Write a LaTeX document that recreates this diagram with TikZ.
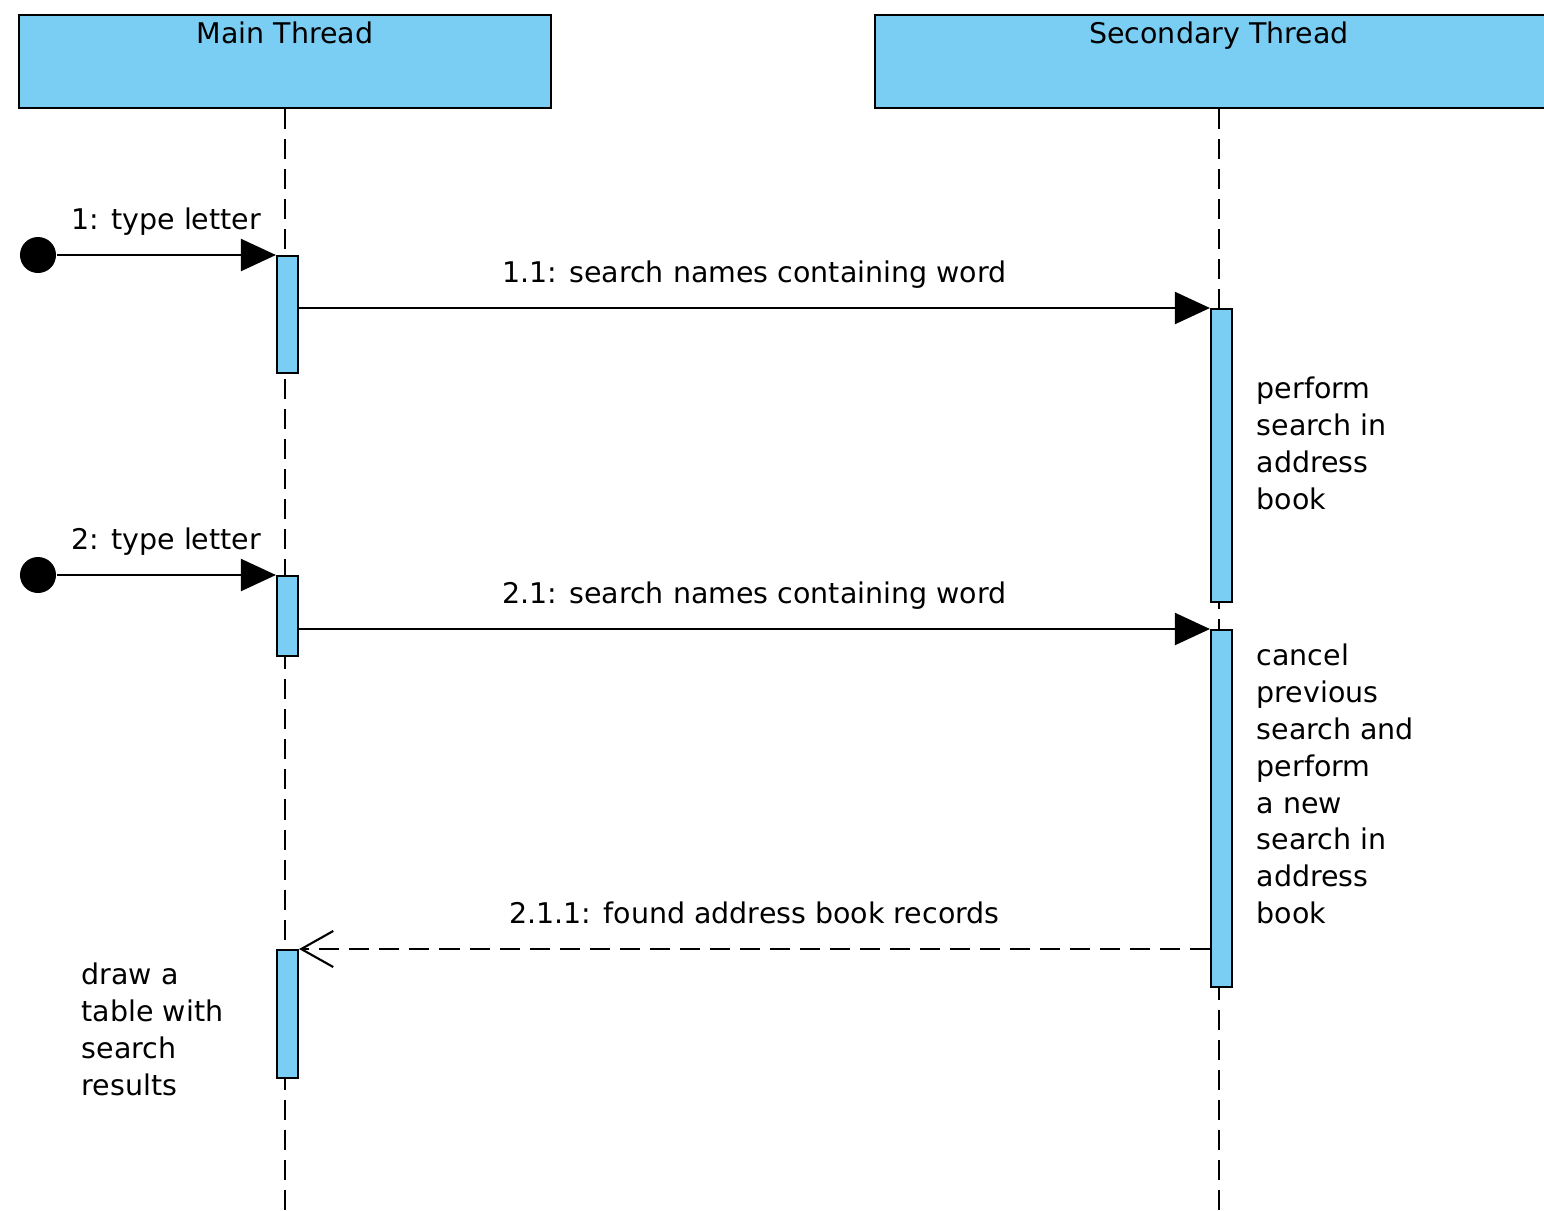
\documentclass[tikz,border=0pt]{standalone}
\usepackage{fontspec}
\setmainfont{DejaVu Sans}
\usetikzlibrary{arrows.meta,positioning}
\definecolor{threadblue}{RGB}{122,206,244}
\tikzset{
    threadhead/.style={rectangle, draw=black, fill=threadblue, line width=0.6pt, minimum width=5.32cm, minimum height=0.93cm},
    lifeline/.style={line width=0.6pt, dash pattern=on 0.2cm off 0.1cm},
    actbox/.style={rectangle, draw=black, fill=threadblue, line width=0.6pt, minimum width=0.21cm, inner sep=0pt, anchor=north, xshift=0.025cm},
    startdot/.style={circle, fill=black, minimum size=0.36cm, inner sep=0pt},
    call/.style={-{Triangle[length=0.35cm, width=0.32cm]}, line width=0.6pt},
    reply/.style={-{Straight Barb[length=0.32cm, width=0.36cm]}, line width=0.6pt, dash pattern=on 0.2cm off 0.1cm},
    msglabel/.style={midway, anchor=base, yshift=0.25cm, inner sep=0pt},
    notetext/.style={align=left, anchor=north west, inner sep=0pt}
}

\begin{document}
\begin{tikzpicture}[x=0.01cm, y=-0.01cm, font=\fontsize{8.1}{10.5}\selectfont]
    \useasboundingbox (0,0) rectangle (1544,1211);
    \clip (0,0) rectangle (1544,1211);
    \node[threadhead, label={[anchor=north, inner sep=0pt, yshift=-0.07cm]north:Main Thread}] (main) at (285,61.5) {};
    \node[threadhead, minimum width=6.88cm, label={[anchor=north, inner sep=0pt, yshift=-0.07cm]north:Secondary Thread}] (second) at (1219,61.5) {};
    \draw[lifeline] (main.south) -- (main.south |- 0,1211);
    \draw[lifeline] (second.south) -- (second.south |- 0,1211);

    \node[actbox, minimum height=1.17cm] (m1) at (main.south |- 0,255) {};
    \node[actbox, minimum height=0.80cm] (m2) at (main.south |- 0,575) {};
    \node[actbox, minimum height=1.28cm] (m3) at (main.south |- 0,949) {};
    \node[actbox, minimum height=2.93cm] (s1) at (second.south |- 0,308) {};
    \node[actbox, minimum height=3.57cm] (s2) at (second.south |- 0,629) {};

    \node[startdot] (start1) at (38,255) {};
    \node[startdot] (start2) at (38,575) {};

    \draw[call] (start1) -- (m1.north west) node[msglabel] {1: type letter};
    \draw[call] (m1.east |- s1.north west) -- (s1.north west) node[msglabel] {1.1: search names containing word};
    \draw[call] (start2) -- (m2.north west) node[msglabel] {2: type letter};
    \draw[call] (m2.east |- s2.north west) -- (s2.north west) node[msglabel] {2.1: search names containing word};
    \draw[reply] (s2.west |- m3.north east) -- (m3.north east) node[msglabel] {2.1.1: found address book records};

    \node[notetext] (note1) at (1256,376) {perform\\search in\\address\\book};
    \node[notetext] (note2) at (1256,643) {cancel\\previous\\search and\\perform\\a new\\search in\\address\\book};
    \node[notetext] (note3) at (81,962) {draw a\\table with\\search\\results};
\end{tikzpicture}
\end{document}
